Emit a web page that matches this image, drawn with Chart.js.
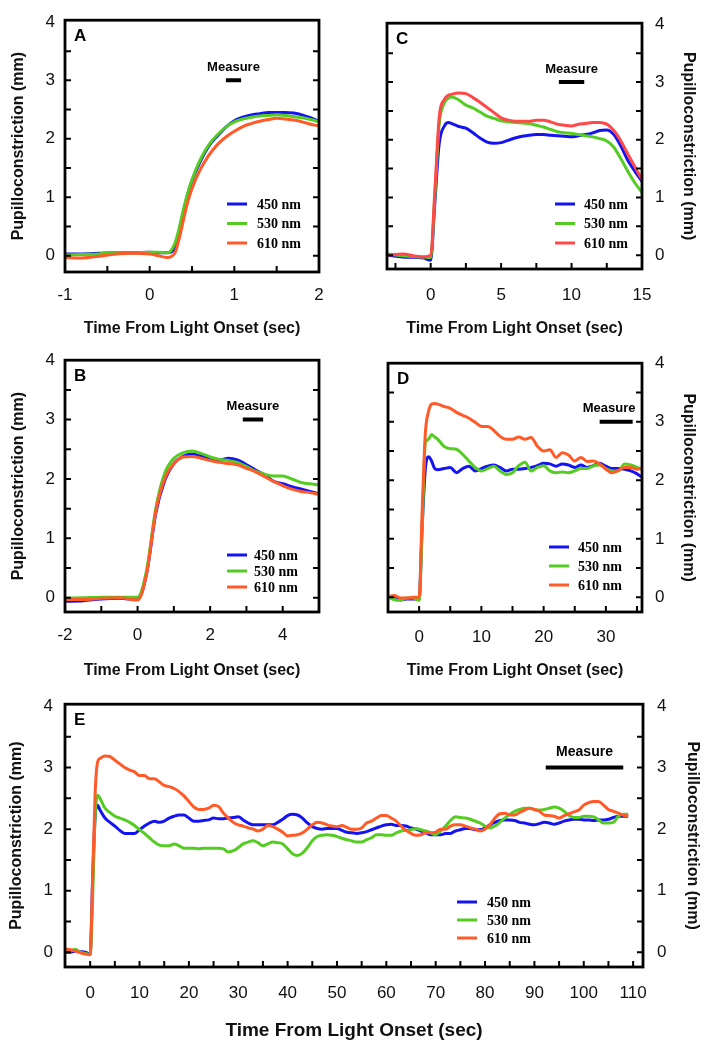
<!DOCTYPE html>
<html lang="en">
<head>
<meta charset="UTF-8">
<title>Pupilloconstriction by wavelength</title>
<style>
  body { margin: 0; background: #fff; }
  .panel { position: absolute; }
</style>
</head>
<body>
<div class="panel" style="left:0;top:0"><canvas id="chartA" width="354" height="340"></canvas></div>
<div class="panel" style="left:354px;top:0"><canvas id="chartC" width="355" height="340"></canvas></div>
<div class="panel" style="left:0;top:340px"><canvas id="chartB" width="354" height="340"></canvas></div>
<div class="panel" style="left:354px;top:340px"><canvas id="chartD" width="355" height="340"></canvas></div>
<div class="panel" style="left:0;top:680px"><canvas id="chartE" width="709" height="370"></canvas></div>

<script src="https://cdn.jsdelivr.net/npm/chart.js"></script>
<script>
// ---- data ----
const seriesNames = ['450 nm', '530 nm', '610 nm'];
const yTicks = [0, 1, 2, 3, 4];
const measureLevel = [3, 3];

// A
const aTime = [-1, -0.8, -0.6, -0.4, -0.2, 0, 0.1, 0.2, 0.25, 0.3, 0.35, 0.4, 0.45, 0.5, 0.6, 0.7, 0.8, 0.9, 1.0, 1.1, 1.2, 1.3, 1.4, 1.5, 1.6, 1.7, 1.8, 1.9, 2.0];
const aBlue = [0.03, 0.03, 0.04, 0.05, 0.05, 0.06, 0.05, 0.05, 0.06, 0.15, 0.4, 0.75, 1.05, 1.28, 1.62, 1.88, 2.05, 2.2, 2.31, 2.37, 2.41, 2.43, 2.45, 2.45, 2.45, 2.44, 2.41, 2.36, 2.30];
const aGreen = [0.01, 0.02, 0.03, 0.05, 0.05, 0.06, 0.06, 0.05, 0.08, 0.22, 0.48, 0.8, 1.08, 1.3, 1.65, 1.9, 2.07, 2.2, 2.29, 2.34, 2.37, 2.39, 2.4, 2.41, 2.4, 2.38, 2.36, 2.33, 2.29];
const aRed = [-0.03, -0.04, -0.01, 0.03, 0.04, 0.03, 0.0, -0.03, -0.02, 0.05, 0.3, 0.62, 0.92, 1.15, 1.48, 1.72, 1.9, 2.03, 2.13, 2.21, 2.26, 2.3, 2.33, 2.35, 2.34, 2.32, 2.29, 2.25, 2.22];
const aXTicks = [-1, 0, 1, 2];
const aMeasure = [0.9, 1.08];

// B
const bTime = [-2, -1.5, -1, -0.5, 0, 0.25, 0.5, 0.75, 1, 1.25, 1.5, 1.75, 2, 2.25, 2.5, 2.75, 3, 3.25, 3.5, 3.75, 4, 4.25, 4.5, 4.75, 5];
const bBlue = [-0.06, -0.05, -0.02, -0.01, -0.03, 0.41, 1.42, 1.98, 2.26, 2.38, 2.42, 2.39, 2.35, 2.32, 2.35, 2.32, 2.24, 2.15, 2.07, 1.96, 1.92, 1.87, 1.83, 1.79, 1.75];
const bGreen = [-0.01, 0.0, 0.01, 0.01, 0.01, 0.47, 1.5, 2.1, 2.35, 2.44, 2.47, 2.43, 2.37, 2.33, 2.31, 2.28, 2.21, 2.13, 2.08, 2.05, 2.05, 2.0, 1.94, 1.92, 1.9];
const bRed = [-0.03, -0.03, -0.01, 0.0, -0.04, 0.41, 1.45, 2.01, 2.26, 2.37, 2.38, 2.35, 2.31, 2.28, 2.26, 2.24, 2.18, 2.12, 2.04, 1.96, 1.89, 1.83, 1.79, 1.77, 1.74];
const bXTicks = [-2, 0, 2, 4];
const bMeasure = [2.9, 3.46];

// C
const cTime = [-3.1, -2, -1, -0.5, 0, 0.3, 0.6, 1, 1.25, 1.5, 2, 2.5, 3, 3.5, 4, 4.5, 5, 5.5, 6, 6.5, 7, 7.5, 8, 8.5, 9, 9.5, 10, 10.5, 11, 11.5, 12, 12.5, 13, 13.5, 14, 14.5, 15];
const cBlue = [0.0, -0.03, -0.04, -0.05, -0.09, 0.92, 1.92, 2.25, 2.3, 2.28, 2.23, 2.2, 2.12, 2.03, 1.96, 1.94, 1.95, 1.99, 2.03, 2.06, 2.08, 2.09, 2.09, 2.08, 2.07, 2.06, 2.05, 2.07, 2.09, 2.12, 2.16, 2.17, 2.09, 1.89, 1.64, 1.45, 1.28];
const cGreen = [0.02, -0.01, -0.03, -0.03, -0.04, 1.03, 2.26, 2.65, 2.72, 2.74, 2.69, 2.6, 2.55, 2.48, 2.41, 2.37, 2.33, 2.31, 2.3, 2.29, 2.28, 2.25, 2.22, 2.18, 2.14, 2.12, 2.11, 2.09, 2.07, 2.05, 2.02, 1.98, 1.87, 1.67, 1.45, 1.25, 1.09];
const cRed = [0.0, 0.02, -0.02, -0.03, 0.0, 1.14, 2.37, 2.71, 2.77, 2.79, 2.81, 2.8, 2.73, 2.65, 2.56, 2.47, 2.38, 2.34, 2.32, 2.32, 2.32, 2.34, 2.34, 2.31, 2.27, 2.25, 2.24, 2.27, 2.28, 2.3, 2.3, 2.27, 2.16, 1.98, 1.75, 1.53, 1.31];
const cXTicks = [0, 5, 10, 15];
const cMeasure = [9.1, 10.9];

// D
const dTime = [-5, -4, -3, -2, -1, 0, 0.5, 1, 1.5, 2, 2.5, 3, 4, 5, 6, 7, 8, 9, 10, 11, 12, 13, 14, 15, 16, 17, 18, 19, 20, 21, 22, 23, 24, 25, 26, 27, 28, 29, 30, 31, 32, 33, 34, 35, 35.8];
const dBlue = [0.0, 0.01, -0.04, -0.03, -0.03, -0.03, 1.24, 2.19, 2.4, 2.33, 2.2, 2.18, 2.2, 2.22, 2.13, 2.2, 2.24, 2.16, 2.2, 2.24, 2.26, 2.22, 2.16, 2.19, 2.19, 2.2, 2.22, 2.25, 2.29, 2.28, 2.24, 2.28, 2.26, 2.22, 2.26, 2.22, 2.25, 2.29, 2.24, 2.2, 2.2, 2.19, 2.16, 2.11, 2.05];
const dGreen = [0.01, -0.04, -0.05, -0.01, -0.01, -0.05, 1.18, 2.64, 2.7, 2.78, 2.74, 2.7, 2.58, 2.54, 2.53, 2.44, 2.33, 2.22, 2.16, 2.2, 2.24, 2.16, 2.1, 2.13, 2.25, 2.31, 2.16, 2.22, 2.25, 2.16, 2.13, 2.14, 2.13, 2.16, 2.2, 2.2, 2.25, 2.26, 2.2, 2.16, 2.16, 2.28, 2.26, 2.22, 2.19];
const dRed = [0.01, 0.03, -0.01, -0.01, 0.0, 0.0, 1.52, 2.81, 3.17, 3.3, 3.31, 3.3, 3.26, 3.23, 3.16, 3.11, 3.06, 2.99, 2.92, 2.92, 2.85, 2.75, 2.7, 2.7, 2.74, 2.7, 2.73, 2.58, 2.5, 2.52, 2.39, 2.47, 2.43, 2.33, 2.39, 2.32, 2.33, 2.28, 2.19, 2.13, 2.17, 2.22, 2.22, 2.19, 2.2];
const dXTicks = [0, 10, 20, 30];
const dMeasure = [29, 34.3];

// E
const eTime = [-5, -4, -3, -2, -1, 0, 0.5, 1, 1.5, 2, 3, 4, 5, 6, 7, 8, 9, 10, 11, 12, 13, 14, 15, 16, 17, 18, 19, 20, 21, 22, 23, 24, 25, 26, 27, 28, 29, 30, 31, 32, 33, 34, 35, 36, 37, 38, 39, 40, 41, 42, 43, 44, 45, 46, 47, 48, 49, 50, 51, 52, 53, 54, 55, 56, 57, 58, 59, 60, 61, 62, 63, 64, 65, 66, 67, 68, 69, 70, 71, 72, 73, 74, 75, 76, 77, 78, 79, 80, 81, 82, 83, 84, 85, 86, 87, 88, 89, 90, 91, 92, 93, 94, 95, 96, 97, 98, 99, 100, 101, 102, 103, 104, 105, 106, 107, 108, 109];
const eBlue = [0.0, 0.0, 0.02, 0.01, 0.0, -0.03, 1.2, 2.2, 2.39, 2.31, 2.18, 2.11, 2.05, 1.98, 1.93, 1.93, 1.93, 1.99, 2.05, 2.1, 2.13, 2.11, 2.13, 2.18, 2.21, 2.23, 2.23, 2.18, 2.13, 2.13, 2.14, 2.15, 2.18, 2.17, 2.17, 2.18, 2.19, 2.2, 2.15, 2.1, 2.07, 2.07, 2.07, 2.07, 2.07, 2.11, 2.16, 2.22, 2.24, 2.23, 2.18, 2.1, 2.04, 2.01, 2.0, 2.01, 2.01, 2.01, 1.98, 1.95, 1.94, 1.93, 1.94, 1.96, 1.99, 2.02, 2.05, 2.07, 2.08, 2.06, 2.06, 2.05, 2.02, 2.0, 1.97, 1.94, 1.91, 1.91, 1.91, 1.93, 1.93, 1.97, 1.99, 2.01, 2.01, 1.99, 1.99, 2.02, 2.07, 2.11, 2.14, 2.15, 2.15, 2.14, 2.11, 2.1, 2.08, 2.07, 2.09, 2.11, 2.1, 2.08, 2.1, 2.13, 2.15, 2.16, 2.16, 2.15, 2.15, 2.14, 2.15, 2.15, 2.16, 2.19, 2.21, 2.21, 2.21];
const eGreen = [0.02, 0.02, 0.05, 0.0, -0.02, -0.03, 0.9, 2.2, 2.55, 2.5, 2.34, 2.27, 2.21, 2.18, 2.15, 2.11, 2.06, 1.99, 1.93, 1.86, 1.79, 1.74, 1.73, 1.73, 1.76, 1.73, 1.69, 1.69, 1.69, 1.68, 1.69, 1.69, 1.69, 1.69, 1.68, 1.63, 1.65, 1.7, 1.76, 1.79, 1.81, 1.78, 1.73, 1.76, 1.79, 1.78, 1.76, 1.68, 1.6, 1.57, 1.61, 1.7, 1.81, 1.88, 1.9, 1.91, 1.9, 1.88, 1.85, 1.83, 1.81, 1.79, 1.79, 1.83, 1.86, 1.91, 1.91, 1.9, 1.9, 1.94, 1.97, 1.98, 1.99, 2.01, 1.99, 1.97, 1.94, 1.91, 1.97, 2.05, 2.14, 2.2, 2.19, 2.18, 2.16, 2.13, 2.1, 2.05, 2.02, 2.05, 2.11, 2.18, 2.24, 2.29, 2.32, 2.34, 2.34, 2.32, 2.31, 2.32, 2.34, 2.36, 2.34, 2.29, 2.22, 2.19, 2.19, 2.21, 2.21, 2.2, 2.15, 2.1, 2.1, 2.11, 2.21, 2.24, 2.24];
const eRed = [0.05, 0.04, 0.02, -0.01, -0.03, -0.04, 1.2, 2.58, 3.09, 3.15, 3.19, 3.18, 3.12, 3.06, 3.0, 2.96, 2.93, 2.87, 2.87, 2.82, 2.82, 2.77, 2.71, 2.69, 2.66, 2.61, 2.54, 2.45, 2.36, 2.32, 2.32, 2.34, 2.39, 2.37, 2.26, 2.18, 2.11, 2.07, 2.05, 2.02, 2.0, 1.97, 2.0, 2.06, 2.04, 2.0, 1.95, 1.89, 1.9, 1.91, 1.94, 2.0, 2.07, 2.11, 2.1, 2.07, 2.05, 2.04, 2.06, 2.03, 2.0, 2.0, 2.02, 2.1, 2.13, 2.18, 2.22, 2.22, 2.18, 2.13, 2.05, 1.98, 1.93, 1.9, 1.91, 1.94, 1.94, 1.95, 2.0, 2.0, 2.05, 2.07, 2.07, 2.05, 2.02, 2.0, 1.97, 2.0, 2.07, 2.18, 2.25, 2.26, 2.23, 2.23, 2.27, 2.31, 2.34, 2.32, 2.29, 2.23, 2.22, 2.21, 2.18, 2.22, 2.25, 2.28, 2.31, 2.39, 2.43, 2.45, 2.45, 2.39, 2.32, 2.29, 2.26, 2.23, 2.21];
const eXTicks = [0, 10, 20, 30, 40, 50, 60, 70, 80, 90, 100, 110];
const eMeasure = [92.3, 108];

// ---- drawing ----
Chart.defaults.font.family = 'Arial, "Liberation Sans", sans-serif';
Chart.defaults.color = '#111';

const BLUE = '#1414f2', GREEN = '#55cc22', ORANGE = '#ff5a28', RED = '#ff4848';

function trace(label, t, v, color, order) {
  return {
    label: label, data: t.map((x, i) => ({ x: x, y: v[i] })),
    borderColor: color, backgroundColor: color, borderWidth: 3,
    pointRadius: 0, cubicInterpolationMode: 'monotone', order: order
  };
}
function measureBar(span) {
  return {
    label: 'Measure', isMeasure: true,
    data: span.map((x, i) => ({ x: x, y: measureLevel[i] })),
    borderColor: '#000', borderWidth: 4, pointRadius: 0, order: 0
  };
}

// box, inward ticks, panel letter, Measure text and legend
const decor = {
  id: 'decor',
  afterDatasetsDraw(chart, args, o) {
    const ctx = chart.ctx, a = chart.chartArea;
    const xs = chart.scales.x, ys = chart.scales.y;
    ctx.save();
    ctx.strokeStyle = '#000';
    ctx.lineWidth = 2;
    ctx.beginPath();
    const start = Math.ceil(xs.min / o.xMinor) * o.xMinor;
    for (let v = start; v <= xs.max + 1e-9; v += o.xMinor) {
      const px = xs.getPixelForValue(v);
      if (px < a.left + 3 || px > a.right - 3) continue;
      ctx.moveTo(px, a.bottom); ctx.lineTo(px, a.bottom - 6);
    }
    for (let v = 0; v <= 4; v += 0.5) {
      const py = ys.getPixelForValue(v);
      if (py < a.top + 3) continue;
      ctx.moveTo(a.left, py); ctx.lineTo(a.left + 6, py);
      ctx.moveTo(a.right, py); ctx.lineTo(a.right - 6, py);
    }
    ctx.stroke();
    ctx.lineWidth = 2.8;
    ctx.strokeRect(a.left, a.top, a.right - a.left, a.bottom - a.top);

    // panel letter
    ctx.fillStyle = '#000';
    ctx.font = 'bold 17px Arial, "Liberation Sans", sans-serif';
    ctx.textAlign = 'left';
    ctx.textBaseline = 'top';
    ctx.fillText(o.letter, a.left + 9, a.top + 8);

    // Measure label above the bar
    const bar = chart.data.datasets.find(d => d.isMeasure);
    const mx = (xs.getPixelForValue(bar.data[0].x) + xs.getPixelForValue(bar.data[1].x)) / 2;
    ctx.font = 'bold ' + o.measureSize + 'px Arial, "Liberation Sans", sans-serif';
    ctx.textAlign = 'center';
    ctx.textBaseline = 'middle';
    ctx.fillText('Measure', mx + o.measureShift, ys.getPixelForValue(3) - o.measureRise);

    // legend
    const items = chart.data.datasets.filter(d => !d.isMeasure);
    ctx.font = 'bold 14px "Liberation Serif", "Times New Roman", serif';
    ctx.textAlign = 'left';
    ctx.lineWidth = 3;
    items.forEach((d, i) => {
      const ly = a.bottom - o.legend.dy + i * o.legend.gap;
      const lx = a.right - o.legend.dx;
      ctx.strokeStyle = d.borderColor;
      ctx.beginPath(); ctx.moveTo(lx, ly); ctx.lineTo(lx + 20, ly); ctx.stroke();
      ctx.fillText(d.label, lx + o.legend.textOff, ly + 1);
    });
    ctx.restore();
  }
};

function yAxis(pos, p) {
  return {
    type: 'linear', position: pos, min: p.yMin, max: p.yMax,
    afterBuildTicks: s => { s.ticks = yTicks.map(v => ({ value: v })); },
    afterFit: s => { s.width = pos === 'left' ? p.leftW : p.rightW; },
    grid: { display: false, drawTicks: false }, border: { display: false },
    ticks: { padding: pos === 'left' ? p.leftPad : p.rightPad, font: { size: 17 }, color: '#111' },
    title: {
      display: true, text: 'Pupilloconstriction (mm)', color: '#111',
      font: { size: 16, weight: 'bold' },
      padding: { top: pos === 'left' ? p.leftTitle : p.rightTitle, bottom: 0 }
    }
  };
}

function makePanel(id, p) {
  const scales = {
    x: {
      type: 'linear', position: 'bottom', min: p.xMin, max: p.xMax,
      afterBuildTicks: s => { s.ticks = p.xTicks.map(v => ({ value: v })); },
      afterFit: s => { s.height = p.xH; },
      grid: { display: false, drawTicks: false }, border: { display: false },
      ticks: { padding: p.xPad, font: { size: 17 }, color: '#111', autoSkip: false, maxRotation: 0 },
      title: {
        display: true, text: 'Time From Light Onset (sec)', color: '#111',
        font: { size: p.xTitleSize, weight: 'bold' }, padding: { top: 0, bottom: p.xTitlePad }
      }
    },
    y: yAxis(p.side, p)
  };
  if (p.both) {
    scales.y2 = yAxis('right', p);
  }
  return new Chart(document.getElementById(id), {
    type: 'line',
    data: {
      datasets: [
        trace(seriesNames[0], p.t, p.s[0], BLUE, 3),
        trace(seriesNames[1], p.t, p.s[1], GREEN, 2),
        trace(seriesNames[2], p.t, p.s[2], p.redColor || ORANGE, 1),
        measureBar(p.measure)
      ]
    },
    options: {
      responsive: false, animation: false, events: [],
      layout: { padding: p.pad },
      plugins: {
        legend: { display: false }, tooltip: { enabled: false },
        decor: {
          letter: p.letter, xMinor: p.xMinor, legend: p.legend,
          measureSize: p.measureSize || 13, measureRise: p.measureRise || 13, measureShift: p.measureShift || 0
        }
      },
      scales: scales
    },
    plugins: [decor]
  });
}

makePanel('chartA', {
  letter: 'A', t: aTime, s: [aBlue, aGreen, aRed], measure: aMeasure,
  xMin: -1, xMax: 2, xTicks: aXTicks, xMinor: 0.5, yMin: -0.28, yMax: 4.03,
  side: 'left', leftW: 65, leftPad: 10, leftTitle: 9,
  pad: { top: 15, right: 35, left: 0, bottom: 0 },
  xH: 68, xPad: 13, xTitleSize: 16, xTitlePad: 2,
  legend: { dx: 92, dy: 68, gap: 19.5, textOff: 30 }
});
makePanel('chartB', {
  letter: 'B', t: bTime, s: [bBlue, bGreen, bRed], measure: bMeasure,
  xMin: -2, xMax: 5, xTicks: bXTicks, xMinor: 1, yMin: -0.24, yMax: 4.0,
  side: 'left', leftW: 65, leftPad: 10, leftTitle: 9,
  pad: { top: 20, right: 35, left: 0, bottom: 0 },
  xH: 68, xPad: 13, xTitleSize: 16, xTitlePad: 0,
  legend: { dx: 92, dy: 57, gap: 16, textOff: 27 }
});
makePanel('chartC', {
  letter: 'C', t: cTime, s: [cBlue, cGreen, cRed], measure: cMeasure, redColor: RED,
  xMin: -3.1, xMax: 15, xTicks: cXTicks, xMinor: 2.5, yMin: -0.24, yMax: 4.02,
  side: 'right', rightW: 67, rightPad: 13, rightTitle: 11,
  pad: { top: 15, right: 0, left: 33, bottom: 0 },
  xH: 71, xPad: 16, xTitleSize: 16, xTitlePad: 2,
  legend: { dx: 87, dy: 65, gap: 19.5, textOff: 29 }
});
makePanel('chartD', {
  letter: 'D', t: dTime, s: [dBlue, dGreen, dRed], measure: dMeasure,
  xMin: -5, xMax: 35.8, xTicks: dXTicks, xMinor: 5, yMin: -0.25, yMax: 4.0,
  side: 'right', rightW: 67, rightPad: 13, rightTitle: 11,
  pad: { top: 18, right: 0, left: 34, bottom: 0 },
  xH: 68, xPad: 15, xTitleSize: 16, xTitlePad: 0,
  legend: { dx: 93, dy: 65, gap: 19, textOff: 29 },
  measureShift: -7
});
makePanel('chartE', {
  letter: 'E', t: eTime, s: [eBlue, eGreen, eRed], measure: eMeasure,
  xMin: -5.1, xMax: 112, xTicks: eXTicks, xMinor: 5, yMin: -0.24, yMax: 4.03,
  side: 'left', both: true, leftW: 65, leftPad: 12, leftTitle: 7, rightW: 66, rightPad: 14, rightTitle: 7,
  pad: { top: 19, right: 0, left: 0, bottom: 0 },
  xH: 83, xPad: 16, xTitleSize: 19, xTitlePad: 8,
  legend: { dx: 186, dy: 65, gap: 18, textOff: 30 },
  measureSize: 14, measureRise: 15
});
</script>
</body>
</html>
